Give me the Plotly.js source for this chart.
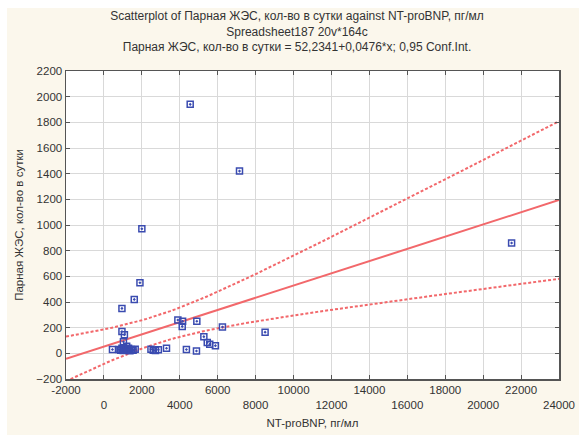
<!DOCTYPE html>
<html>
<head>
<meta charset="utf-8">
<script src="https://cdn.plot.ly/plotly-3.0.1.min.js"></script>
<style>
  html, body { margin: 0; padding: 0; background: #ffffff; }
  #chart { position: absolute; left: 7px; top: 8px; width: 572px; height: 427px; }
</style>
</head>
<body>
<div id="chart"></div>
<script>
// Observed points (NT-proBNP, пг/мл ; Парная ЖЭС, кол-во в сутки)
const ntProBNP = [4550, 7150, 2000, 1900, 1600, 950, 3900, 4150, 4130, 4900, 6250, 8500, 21500,
  950, 1080, 1030, 5270, 5450, 5580, 5880, 3300, 4350, 4880, 450,
  800, 880, 950, 1020, 1090, 1160, 1230, 1300, 1370, 1450, 1540, 1650, 1200,
  2480, 2600, 2720, 2870];
const pvcPerDay = [1940, 1420, 970, 550, 420, 350, 260, 250, 210, 250, 205, 165, 860,
  170, 145, 90, 130, 85, 70, 60, 40, 30, 18, 30,
  30, 25, 40, 22, 35, 25, 30, 40, 20, 30, 25, 32, 55,
  32, 25, 22, 28];

// Regression reported in the chart: y = 52.2341 + 0.0476*x ; 0.95 conf. int.
const intercept = 52.2341;
const slope = 0.0476;
const xMean = 2765;        // centre of the confidence band
const ciVar0 = 11727;      // squared half-width at the mean
const ciVarSlope = 8.1e-4; // growth of squared half-width with (x - mean)^2

const xTickVals = [-2000, 0, 2000, 4000, 6000, 8000, 10000, 12000, 14000, 16000, 18000, 20000, 22000, 24000];
const xTickText = ["-2000", "<br>0", "2000", "<br>4000", "6000", "<br>8000", "10000", "<br>12000",
  "14000", "<br>16000", "18000", "<br>20000", "22000", "<br>24000"];

const fitX = [];
for (let x = -2000; x <= 24000; x += 250) fitX.push(x);
const fitY = fitX.map(x => intercept + slope * x);
const hw = fitX.map(x => Math.sqrt(ciVar0 + ciVarSlope * (x - xMean) * (x - xMean)));
const upY = fitY.map((y, i) => y + hw[i]);
const loY = fitY.map((y, i) => y - hw[i]);

const red = '#f2686b';
const traces = [
  { x: fitX, y: upY, mode: 'lines', line: { color: red, width: 2, dash: '3px,2px' }, hoverinfo: 'skip' },
  { x: fitX, y: loY, mode: 'lines', line: { color: red, width: 2, dash: '3px,2px' }, hoverinfo: 'skip' },
  { x: fitX, y: fitY, mode: 'lines', line: { color: red, width: 2 }, hoverinfo: 'skip' },
  { x: ntProBNP, y: pvcPerDay, mode: 'markers',
    marker: { symbol: 'square-open-dot', size: 6, color: '#3a4bb0', line: { width: 1.5, color: '#3a4bb0' } } }
];

const fnt = { family: 'Liberation Sans, Arial, sans-serif', size: 11.5, color: '#333' };
const layout = {
  width: 572, height: 427,
  paper_bgcolor: '#fbf7ec', plot_bgcolor: '#ffffff',
  showlegend: false,
  font: fnt,
  margin: { l: 59, r: 20, t: 63, b: 56 },
  title: {
    text: 'Scatterplot of Парная ЖЭС, кол-во в сутки against NT-proBNP, пг/мл<br>Spreadsheet187 20v*164c<br>Парная ЖЭС, кол-во в сутки = 52,2341+0,0476*x; 0,95 Conf.Int.',
    font: { family: 'Liberation Sans, Arial, sans-serif', size: 12, color: '#333' },
    x: 0.507, xanchor: 'center', yref: 'paper', y: 1, yanchor: 'bottom', pad: { b: 51 }
  },
  xaxis: {
    range: [-2000, 24000], tickvals: xTickVals, ticktext: xTickText,
    showgrid: true, gridcolor: '#d9d9d9', gridwidth: 1, zeroline: false,
    showline: true, linecolor: '#555', linewidth: 1.5, mirror: 'ticks',
    ticks: 'inside', ticklen: 4, tickcolor: '#555',
    tickfont: fnt,
    title: { text: 'NT-proBNP, пг/мл', font: fnt, standoff: 8 }
  },
  yaxis: {
    range: [-200, 2200], dtick: 200, tick0: 0,
    showgrid: true, gridcolor: '#d9d9d9', gridwidth: 1, zeroline: false,
    showline: true, linecolor: '#555', linewidth: 1.5, mirror: 'ticks',
    ticks: 'inside', ticklen: 4, tickcolor: '#555',
    tickfont: fnt,
    title: { text: 'Парная ЖЭС, кол-во в сутки', font: fnt, standoff: 10 }
  }
};
Plotly.newPlot('chart', traces, layout, { displayModeBar: false, staticPlot: true });
</script>
</body>
</html>
